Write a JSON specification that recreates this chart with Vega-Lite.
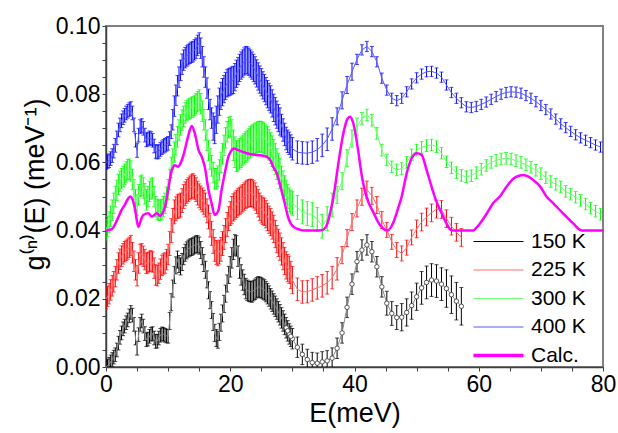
{
"$schema": "https://vega.github.io/schema/vega-lite/v6.json",
"width": 497, "height": 341,
"autosize": {"type": "none"},
"padding": {"left": 106, "top": 26, "right": 15, "bottom": 66},
"background": "white",
"config": {
 "font": "Liberation Sans",
 "view": {"stroke": "#808080", "strokeWidth": 2},
 "axis": {"grid": false, "domainColor": "#404040", "domainWidth": 1.5, "tickColor": "#404040", "labelColor": "#000", "titleColor": "#000", "labelFont": "Liberation Sans", "titleFont": "Liberation Sans", "labelFontSize": 23, "titleFontSize": 27, "titleFontWeight": "normal", "labelOverlap": false, "labelFlush": false}
},
"datasets": {
"k150": [
{"E":0,"g":0,"e":0.002},{"E":0.5,"g":0.0008,"e":0.002},{"E":1,"g":0.0022,"e":0.002},{"E":1.5,"g":0.0036,"e":0.002},{"E":2,"g":0.007,"e":0.002},{"E":2.5,"g":0.01,"e":0.002},{"E":3,"g":0.012,"e":0.002},{"E":3.5,"g":0.0138,"e":0.002},{"E":4,"g":0.016,"e":0.002},{"E":4.5,"g":0.0125,"e":0.002},{"E":5,"g":0.0055,"e":0.002},{"E":5.5,"g":0.0125,"e":0.002},{"E":6,"g":0.012,"e":0.002},{"E":6.5,"g":0.008,"e":0.002},{"E":7,"g":0.009,"e":0.002},{"E":7.5,"g":0.0098,"e":0.002},{"E":8,"g":0.0075,"e":0.002},{"E":8.5,"g":0.0085,"e":0.002},{"E":9,"g":0.0097,"e":0.002},{"E":9.5,"g":0.0093,"e":0.002},{"E":10,"g":0.009,"e":0.002},
{"E":10.5,"g":0.019,"e":0.0025},{"E":11,"g":0.027,"e":0.0025},{"E":11.5,"g":0.0315,"e":0.0025},{"E":12,"g":0.0295,"e":0.0025},{"E":12.5,"g":0.0325,"e":0.0025},{"E":13,"g":0.0342,"e":0.0025},{"E":13.5,"g":0.035,"e":0.0025},{"E":14,"g":0.0354,"e":0.0025},{"E":14.5,"g":0.036,"e":0.0025},{"E":15,"g":0.0356,"e":0.0025},{"E":15.5,"g":0.0325,"e":0.0025},{"E":16,"g":0.0285,"e":0.0025},{"E":16.5,"g":0.0225,"e":0.0025},{"E":17,"g":0.0167,"e":0.0025},{"E":17.5,"g":0.01,"e":0.0025},{"E":18,"g":0.008,"e":0.0025},{"E":18.5,"g":0.013,"e":0.0025},{"E":19,"g":0.0185,"e":0.0025},{"E":19.5,"g":0.0245,"e":0.0025},
{"E":20,"g":0.0294,"e":0.003},{"E":20.5,"g":0.0345,"e":0.003},{"E":21,"g":0.0355,"e":0.003},{"E":21.5,"g":0.029,"e":0.003},{"E":22,"g":0.0255,"e":0.003},{"E":22.5,"g":0.023,"e":0.003},{"E":23,"g":0.0222,"e":0.003},{"E":23.5,"g":0.022,"e":0.003},{"E":24,"g":0.0228,"e":0.003},{"E":24.5,"g":0.0235,"e":0.003},{"E":25,"g":0.0232,"e":0.003},{"E":25.5,"g":0.0226,"e":0.003},{"E":26,"g":0.0215,"e":0.003},{"E":26.5,"g":0.02,"e":0.003},{"E":27,"g":0.0185,"e":0.003},{"E":27.5,"g":0.017,"e":0.003},{"E":28,"g":0.0153,"e":0.003},{"E":28.5,"g":0.0135,"e":0.003},{"E":29,"g":0.0115,"e":0.003},{"E":29.5,"g":0.0097,"e":0.003},{"E":30,"g":0.0083,"e":0.003},
{"E":30.8,"g":0.0058,"e":0.003},{"E":31.6,"g":0.0037,"e":0.003},{"E":32.4,"g":0.0022,"e":0.003},{"E":33.2,"g":0.0013,"e":0.003},{"E":34,"g":0.0011,"e":0.003},{"E":34.8,"g":0.0015,"e":0.003},{"E":35.6,"g":0.0018,"e":0.003},{"E":36.4,"g":0.0026,"e":0.003},{"E":37.2,"g":0.0055,"e":0.003},{"E":38,"g":0.01,"e":0.003},{"E":38.8,"g":0.0175,"e":0.003},{"E":39.6,"g":0.0243,"e":0.003},{"E":40.4,"g":0.0309,"e":0.003},{"E":41.2,"g":0.0343,"e":0.003},{"E":42,"g":0.0358,"e":0.003},{"E":42.8,"g":0.0338,"e":0.003},{"E":43.6,"g":0.0294,"e":0.003},{"E":44.4,"g":0.0235,"e":0.003},{"E":45.2,"g":0.0187,"e":0.0035},{"E":46,"g":0.0157,"e":0.0035},{"E":46.8,"g":0.0145,"e":0.0035},{"E":47.6,"g":0.0146,"e":0.004},{"E":48.4,"g":0.016,"e":0.004},{"E":49.2,"g":0.018,"e":0.004},{"E":50,"g":0.0206,"e":0.004},{"E":50.8,"g":0.0232,"e":0.0048},{"E":51.6,"g":0.0248,"e":0.0048},{"E":52.4,"g":0.0255,"e":0.0048},{"E":53.2,"g":0.0252,"e":0.0048},{"E":54,"g":0.0243,"e":0.0048},{"E":54.8,"g":0.023,"e":0.0055},{"E":55.6,"g":0.0212,"e":0.0055},{"E":56.4,"g":0.0193,"e":0.0055},{"E":57.2,"g":0.0178,"e":0.0055},
{"E":0.25,"g":0.0003,"e":0.002},{"E":0.75,"g":0.0015,"e":0.002},{"E":1.25,"g":0.0029,"e":0.002},{"E":1.75,"g":0.005,"e":0.002},{"E":2.25,"g":0.0087,"e":0.002},{"E":2.75,"g":0.0112,"e":0.002},{"E":3.25,"g":0.013,"e":0.002},{"E":3.75,"g":0.015,"e":0.002},{"E":4.25,"g":0.0152,"e":0.002},{"E":4.75,"g":0.0085,"e":0.002},{"E":5.25,"g":0.0095,"e":0.002},{"E":5.75,"g":0.0135,"e":0.002},{"E":6.25,"g":0.0098,"e":0.002},{"E":6.75,"g":0.0082,"e":0.002},{"E":7.25,"g":0.0096,"e":0.002},{"E":7.75,"g":0.0085,"e":0.002},{"E":8.25,"g":0.0076,"e":0.002},{"E":8.75,"g":0.0093,"e":0.002},{"E":9.25,"g":0.0096,"e":0.002},{"E":9.75,"g":0.0091,"e":0.002},
{"E":10.25,"g":0.0135,"e":0.0025},{"E":10.75,"g":0.023,"e":0.0025},{"E":11.25,"g":0.0298,"e":0.0025},{"E":11.75,"g":0.0302,"e":0.0025},{"E":12.25,"g":0.0308,"e":0.0025},{"E":12.75,"g":0.0335,"e":0.0025},{"E":13.25,"g":0.0347,"e":0.0025},{"E":13.75,"g":0.0352,"e":0.0025},{"E":14.25,"g":0.0357,"e":0.0025},{"E":14.75,"g":0.036,"e":0.0025},{"E":15.25,"g":0.0343,"e":0.0025},{"E":15.75,"g":0.0305,"e":0.0025},{"E":16.25,"g":0.0257,"e":0.0025},{"E":16.75,"g":0.0196,"e":0.0025},{"E":17.25,"g":0.0132,"e":0.0025},{"E":17.75,"g":0.0085,"e":0.0025},{"E":18.25,"g":0.0103,"e":0.0025},{"E":18.75,"g":0.0157,"e":0.0025},{"E":19.25,"g":0.0215,"e":0.0025},{"E":19.75,"g":0.027,"e":0.0025},
{"E":20.25,"g":0.032,"e":0.003},{"E":20.75,"g":0.0358,"e":0.003},{"E":21.25,"g":0.0325,"e":0.003},{"E":21.75,"g":0.027,"e":0.003},{"E":22.25,"g":0.0242,"e":0.003},{"E":22.75,"g":0.0225,"e":0.003},{"E":23.25,"g":0.0221,"e":0.003},{"E":23.75,"g":0.0224,"e":0.003},{"E":24.25,"g":0.0232,"e":0.003},{"E":24.75,"g":0.0234,"e":0.003},{"E":25.25,"g":0.0229,"e":0.003},{"E":25.75,"g":0.0221,"e":0.003},{"E":26.25,"g":0.0208,"e":0.003},{"E":26.75,"g":0.0193,"e":0.003},{"E":27.25,"g":0.0178,"e":0.003},{"E":27.75,"g":0.0162,"e":0.003},{"E":28.25,"g":0.0144,"e":0.003},{"E":28.75,"g":0.0125,"e":0.003},{"E":29.25,"g":0.0106,"e":0.003},{"E":29.75,"g":0.009,"e":0.003}
],
"k225": [
{"E":0,"g":0.02,"e":0.003},{"E":0.5,"g":0.0215,"e":0.003},{"E":1,"g":0.0238,"e":0.003},{"E":1.5,"g":0.0265,"e":0.003},{"E":2,"g":0.0305,"e":0.003},{"E":2.5,"g":0.0325,"e":0.003},{"E":3,"g":0.0338,"e":0.003},{"E":3.5,"g":0.0346,"e":0.003},{"E":4,"g":0.0356,"e":0.003},{"E":4.5,"g":0.031,"e":0.003},{"E":5,"g":0.0268,"e":0.003},{"E":5.5,"g":0.033,"e":0.003},{"E":6,"g":0.0325,"e":0.003},{"E":6.5,"g":0.0304,"e":0.003},{"E":7,"g":0.031,"e":0.003},{"E":7.5,"g":0.0308,"e":0.003},{"E":8,"g":0.027,"e":0.003},{"E":8.5,"g":0.0275,"e":0.003},{"E":9,"g":0.0298,"e":0.003},{"E":9.5,"g":0.0305,"e":0.003},{"E":10,"g":0.033,"e":0.003},
{"E":10.5,"g":0.04,"e":0.0035},{"E":11,"g":0.0455,"e":0.0035},{"E":11.5,"g":0.047,"e":0.0035},{"E":12,"g":0.0475,"e":0.0035},{"E":12.5,"g":0.05,"e":0.0035},{"E":13,"g":0.0515,"e":0.0035},{"E":13.5,"g":0.0525,"e":0.0035},{"E":14,"g":0.0532,"e":0.0035},{"E":14.5,"g":0.052,"e":0.0035},{"E":15,"g":0.0502,"e":0.0035},{"E":15.5,"g":0.049,"e":0.0035},{"E":16,"g":0.0475,"e":0.0035},{"E":16.5,"g":0.044,"e":0.0035},{"E":17,"g":0.0392,"e":0.0035},{"E":17.5,"g":0.0345,"e":0.0035},{"E":18,"g":0.0332,"e":0.0035},{"E":18.5,"g":0.0345,"e":0.0035},{"E":19,"g":0.038,"e":0.0035},{"E":19.5,"g":0.0418,"e":0.0035},{"E":20,"g":0.045,"e":0.0035},
{"E":20.5,"g":0.0468,"e":0.004},{"E":21,"g":0.0478,"e":0.004},{"E":21.5,"g":0.0487,"e":0.004},{"E":22,"g":0.0495,"e":0.004},{"E":22.5,"g":0.0505,"e":0.004},{"E":23,"g":0.051,"e":0.004},{"E":23.5,"g":0.051,"e":0.004},{"E":24,"g":0.05,"e":0.004},{"E":24.5,"g":0.048,"e":0.004},{"E":25,"g":0.0462,"e":0.004},{"E":25.5,"g":0.0455,"e":0.004},{"E":26,"g":0.044,"e":0.004},{"E":26.5,"g":0.0425,"e":0.004},{"E":27,"g":0.0405,"e":0.004},{"E":27.5,"g":0.0375,"e":0.004},{"E":28,"g":0.0353,"e":0.004},{"E":28.5,"g":0.0325,"e":0.004},{"E":29,"g":0.0298,"e":0.004},{"E":29.5,"g":0.0285,"e":0.004},{"E":30,"g":0.0255,"e":0.004},
{"E":30.8,"g":0.0228,"e":0.0033},{"E":31.6,"g":0.022,"e":0.0033},{"E":32.4,"g":0.0221,"e":0.0033},{"E":33.2,"g":0.0226,"e":0.0033},{"E":34,"g":0.0232,"e":0.0033},{"E":34.8,"g":0.0238,"e":0.0033},{"E":35.6,"g":0.0247,"e":0.0033},{"E":36.4,"g":0.0262,"e":0.0033},{"E":37.2,"g":0.0288,"e":0.0033},{"E":38,"g":0.0328,"e":0.0025},{"E":38.8,"g":0.0378,"e":0.0025},{"E":39.6,"g":0.0425,"e":0.0025},{"E":40.4,"g":0.0465,"e":0.0025},{"E":41.2,"g":0.0499,"e":0.0025},{"E":42,"g":0.052,"e":0.0025},{"E":42.8,"g":0.0502,"e":0.0025},{"E":43.6,"g":0.0475,"e":0.0025},{"E":44.4,"g":0.0431,"e":0.0025},{"E":45.2,"g":0.0402,"e":0.0022},{"E":46,"g":0.0367,"e":0.0022},{"E":46.8,"g":0.0343,"e":0.0022},{"E":47.6,"g":0.0333,"e":0.0022},{"E":48.4,"g":0.035,"e":0.0022},{"E":49.2,"g":0.038,"e":0.0022},{"E":50,"g":0.0405,"e":0.0026},{"E":50.8,"g":0.0425,"e":0.0026},{"E":51.6,"g":0.044,"e":0.0026},{"E":52.4,"g":0.0452,"e":0.0026},{"E":53.2,"g":0.0463,"e":0.0026},{"E":54,"g":0.0462,"e":0.0026},{"E":54.8,"g":0.0435,"e":0.0026},{"E":55.6,"g":0.0413,"e":0.0026},{"E":56.4,"g":0.0395,"e":0.0026},{"E":57.2,"g":0.038,"e":0.0026},
{"E":0.25,"g":0.0207,"e":0.003},{"E":0.75,"g":0.0226,"e":0.003},{"E":1.25,"g":0.025,"e":0.003},{"E":1.75,"g":0.0285,"e":0.003},{"E":2.25,"g":0.0316,"e":0.003},{"E":2.75,"g":0.0332,"e":0.003},{"E":3.25,"g":0.0342,"e":0.003},{"E":3.75,"g":0.0351,"e":0.003},{"E":4.25,"g":0.0335,"e":0.003},{"E":4.75,"g":0.0285,"e":0.003},{"E":5.25,"g":0.0305,"e":0.003},{"E":5.75,"g":0.0332,"e":0.003},{"E":6.25,"g":0.0315,"e":0.003},{"E":6.75,"g":0.0306,"e":0.003},{"E":7.25,"g":0.0311,"e":0.003},{"E":7.75,"g":0.029,"e":0.003},{"E":8.25,"g":0.0268,"e":0.003},{"E":8.75,"g":0.0287,"e":0.003},{"E":9.25,"g":0.0302,"e":0.003},{"E":9.75,"g":0.0315,"e":0.003},
{"E":10.25,"g":0.0362,"e":0.0035},{"E":10.75,"g":0.043,"e":0.0035},{"E":11.25,"g":0.0464,"e":0.0035},{"E":11.75,"g":0.0472,"e":0.0035},{"E":12.25,"g":0.0488,"e":0.0035},{"E":12.75,"g":0.0508,"e":0.0035},{"E":13.25,"g":0.052,"e":0.0035},{"E":13.75,"g":0.0529,"e":0.0035},{"E":14.25,"g":0.0527,"e":0.0035},{"E":14.75,"g":0.051,"e":0.0035},{"E":15.25,"g":0.0496,"e":0.0035},{"E":15.75,"g":0.0483,"e":0.0035},{"E":16.25,"g":0.0458,"e":0.0035},{"E":16.75,"g":0.0416,"e":0.0035},{"E":17.25,"g":0.0368,"e":0.0035},{"E":17.75,"g":0.0336,"e":0.0035},{"E":18.25,"g":0.0337,"e":0.0035},{"E":18.75,"g":0.0362,"e":0.0035},{"E":19.25,"g":0.04,"e":0.0035},{"E":19.75,"g":0.0435,"e":0.0035},
{"E":20.25,"g":0.046,"e":0.004},{"E":20.75,"g":0.0473,"e":0.004},{"E":21.25,"g":0.0483,"e":0.004},{"E":21.75,"g":0.0491,"e":0.004},{"E":22.25,"g":0.05,"e":0.004},{"E":22.75,"g":0.0508,"e":0.004},{"E":23.25,"g":0.0511,"e":0.004},{"E":23.75,"g":0.0506,"e":0.004},{"E":24.25,"g":0.049,"e":0.004},{"E":24.75,"g":0.047,"e":0.004},{"E":25.25,"g":0.0458,"e":0.004},{"E":25.75,"g":0.0448,"e":0.004},{"E":26.25,"g":0.0432,"e":0.004},{"E":26.75,"g":0.0415,"e":0.004},{"E":27.25,"g":0.039,"e":0.004},{"E":27.75,"g":0.0364,"e":0.004},{"E":28.25,"g":0.0339,"e":0.004},{"E":28.75,"g":0.0311,"e":0.004},{"E":29.25,"g":0.029,"e":0.004},{"E":29.75,"g":0.027,"e":0.004}
],
"k300": [
{"E":0,"g":0.0402,"e":0.003},{"E":0.5,"g":0.0425,"e":0.003},{"E":1,"g":0.046,"e":0.003},{"E":1.5,"g":0.05,"e":0.003},{"E":2,"g":0.0535,"e":0.003},{"E":2.5,"g":0.0552,"e":0.003},{"E":3,"g":0.0565,"e":0.003},{"E":3.5,"g":0.0578,"e":0.003},{"E":4,"g":0.0575,"e":0.003},{"E":4.5,"g":0.052,"e":0.003},{"E":5,"g":0.0475,"e":0.003},{"E":5.5,"g":0.053,"e":0.003},{"E":6,"g":0.0525,"e":0.003},{"E":6.5,"g":0.049,"e":0.003},{"E":7,"g":0.0515,"e":0.003},{"E":7.5,"g":0.0525,"e":0.003},{"E":8,"g":0.047,"e":0.003},{"E":8.5,"g":0.046,"e":0.003},{"E":9,"g":0.0462,"e":0.003},{"E":9.5,"g":0.048,"e":0.003},{"E":10,"g":0.052,"e":0.003},
{"E":10.5,"g":0.0585,"e":0.003},{"E":11,"g":0.063,"e":0.003},{"E":11.5,"g":0.0675,"e":0.003},{"E":12,"g":0.071,"e":0.003},{"E":12.5,"g":0.0735,"e":0.003},{"E":13,"g":0.0752,"e":0.003},{"E":13.5,"g":0.0758,"e":0.003},{"E":14,"g":0.0763,"e":0.003},{"E":14.5,"g":0.0772,"e":0.003},{"E":15,"g":0.0783,"e":0.003},{"E":15.5,"g":0.075,"e":0.003},{"E":16,"g":0.0695,"e":0.003},{"E":16.5,"g":0.0635,"e":0.003},{"E":17,"g":0.059,"e":0.003},{"E":17.5,"g":0.0552,"e":0.003},{"E":18,"g":0.056,"e":0.003},{"E":18.5,"g":0.06,"e":0.003},{"E":19,"g":0.065,"e":0.003},{"E":19.5,"g":0.069,"e":0.003},{"E":20,"g":0.0705,"e":0.003},
{"E":20.5,"g":0.065,"e":0.0045},{"E":21,"g":0.0618,"e":0.0045},{"E":21.5,"g":0.0625,"e":0.0045},{"E":22,"g":0.0635,"e":0.0045},{"E":22.5,"g":0.0645,"e":0.0045},{"E":23,"g":0.0655,"e":0.0045},{"E":23.5,"g":0.0664,"e":0.0045},{"E":24,"g":0.067,"e":0.0045},{"E":24.5,"g":0.0675,"e":0.0045},{"E":25,"g":0.0675,"e":0.0045},{"E":25.5,"g":0.067,"e":0.0045},{"E":26,"g":0.066,"e":0.0045},{"E":26.5,"g":0.0642,"e":0.0045},{"E":27,"g":0.0622,"e":0.0045},{"E":27.5,"g":0.0595,"e":0.0045},{"E":28,"g":0.0568,"e":0.0045},
{"E":28.5,"g":0.054,"e":0.0035},{"E":29,"g":0.0513,"e":0.0035},{"E":29.5,"g":0.049,"e":0.0035},{"E":30,"g":0.048,"e":0.0035},{"E":30.8,"g":0.0468,"e":0.0035},{"E":31.6,"g":0.0455,"e":0.0035},{"E":32.4,"g":0.045,"e":0.0035},{"E":33.2,"g":0.0447,"e":0.0035},{"E":34,"g":0.0433,"e":0.0035},{"E":34.8,"g":0.0413,"e":0.0035},{"E":35.6,"g":0.0435,"e":0.0035},{"E":36.4,"g":0.0475,"e":0.0035},{"E":37.2,"g":0.0505,"e":0.0025},{"E":38,"g":0.0545,"e":0.0025},{"E":38.8,"g":0.0612,"e":0.0025},{"E":39.6,"g":0.067,"e":0.0025},{"E":40.4,"g":0.0705,"e":0.0025},
{"E":41.2,"g":0.0729,"e":0.0017},{"E":42,"g":0.0739,"e":0.0017},{"E":42.8,"g":0.0724,"e":0.0017},{"E":43.6,"g":0.0685,"e":0.0017},{"E":44.4,"g":0.0636,"e":0.0017},{"E":45.2,"g":0.0607,"e":0.0017},{"E":46,"g":0.0587,"e":0.0017},{"E":46.8,"g":0.0578,"e":0.0017},{"E":47.6,"g":0.0582,"e":0.0017},{"E":48.4,"g":0.06,"e":0.0017},{"E":49.2,"g":0.0622,"e":0.0017},{"E":50,"g":0.0636,"e":0.0017},{"E":50.8,"g":0.0644,"e":0.0017},{"E":51.6,"g":0.0649,"e":0.0017},{"E":52.4,"g":0.0651,"e":0.0017},{"E":53.2,"g":0.0646,"e":0.0017},{"E":54,"g":0.0627,"e":0.0017},{"E":54.8,"g":0.0602,"e":0.0017},{"E":55.6,"g":0.0584,"e":0.0017},{"E":56.4,"g":0.057,"e":0.0017},{"E":57.2,"g":0.0562,"e":0.0017},{"E":58,"g":0.0558,"e":0.0017},{"E":58.8,"g":0.0561,"e":0.0017},{"E":59.6,"g":0.057,"e":0.0017},{"E":60.4,"g":0.058,"e":0.0017},{"E":61.2,"g":0.0591,"e":0.0017},{"E":62,"g":0.06,"e":0.0017},{"E":62.8,"g":0.0606,"e":0.0017},{"E":63.6,"g":0.061,"e":0.0017},{"E":64.4,"g":0.0612,"e":0.0017},{"E":65.2,"g":0.061,"e":0.0017},{"E":66,"g":0.0605,"e":0.0017},{"E":66.8,"g":0.06,"e":0.0017},{"E":67.6,"g":0.0593,"e":0.0017},{"E":68.4,"g":0.0586,"e":0.0017},{"E":69.2,"g":0.0577,"e":0.0017},{"E":70,"g":0.0567,"e":0.0017},{"E":70.8,"g":0.0555,"e":0.0017},{"E":71.6,"g":0.0544,"e":0.0017},{"E":72.4,"g":0.0536,"e":0.0017},{"E":73.2,"g":0.0528,"e":0.0017},{"E":74,"g":0.0515,"e":0.0017},{"E":74.8,"g":0.0507,"e":0.0017},{"E":75.6,"g":0.0498,"e":0.0017},{"E":76.4,"g":0.0489,"e":0.0017},{"E":77.2,"g":0.0478,"e":0.0017},{"E":78,"g":0.0466,"e":0.0017},{"E":78.8,"g":0.0457,"e":0.0017},{"E":79.6,"g":0.0448,"e":0.0017},
{"E":0.25,"g":0.0412,"e":0.003},{"E":0.75,"g":0.0442,"e":0.003},{"E":1.25,"g":0.048,"e":0.003},{"E":1.75,"g":0.0518,"e":0.003},{"E":2.25,"g":0.0545,"e":0.003},{"E":2.75,"g":0.0559,"e":0.003},{"E":3.25,"g":0.0572,"e":0.003},{"E":3.75,"g":0.058,"e":0.003},{"E":4.25,"g":0.055,"e":0.003},{"E":4.75,"g":0.049,"e":0.003},{"E":5.25,"g":0.0505,"e":0.003},{"E":5.75,"g":0.0533,"e":0.003},{"E":6.25,"g":0.0508,"e":0.003},{"E":6.75,"g":0.05,"e":0.003},{"E":7.25,"g":0.0522,"e":0.003},{"E":7.75,"g":0.05,"e":0.003},{"E":8.25,"g":0.0462,"e":0.003},{"E":8.75,"g":0.046,"e":0.003},{"E":9.25,"g":0.047,"e":0.003},{"E":9.75,"g":0.0498,"e":0.003},
{"E":10.25,"g":0.055,"e":0.003},{"E":10.75,"g":0.061,"e":0.003},{"E":11.25,"g":0.0652,"e":0.003},{"E":11.75,"g":0.0695,"e":0.003},{"E":12.25,"g":0.0724,"e":0.003},{"E":12.75,"g":0.0745,"e":0.003},{"E":13.25,"g":0.0756,"e":0.003},{"E":13.75,"g":0.0761,"e":0.003},{"E":14.25,"g":0.0767,"e":0.003},{"E":14.75,"g":0.0778,"e":0.003},{"E":15.25,"g":0.0772,"e":0.003},{"E":15.75,"g":0.0725,"e":0.003},{"E":16.25,"g":0.0665,"e":0.003},{"E":16.75,"g":0.061,"e":0.003},{"E":17.25,"g":0.057,"e":0.003},{"E":17.75,"g":0.0552,"e":0.003},{"E":18.25,"g":0.0578,"e":0.003},{"E":18.75,"g":0.0625,"e":0.003},{"E":19.25,"g":0.0672,"e":0.003},{"E":19.75,"g":0.0702,"e":0.003},
{"E":20.25,"g":0.068,"e":0.0045},{"E":20.75,"g":0.063,"e":0.0045},{"E":21.25,"g":0.062,"e":0.0045},{"E":21.75,"g":0.063,"e":0.0045},{"E":22.25,"g":0.064,"e":0.0045},{"E":22.75,"g":0.065,"e":0.0045},{"E":23.25,"g":0.066,"e":0.0045},{"E":23.75,"g":0.0667,"e":0.0045},{"E":24.25,"g":0.0673,"e":0.0045},{"E":24.75,"g":0.0676,"e":0.0045},{"E":25.25,"g":0.0673,"e":0.0045},{"E":25.75,"g":0.0665,"e":0.0045},{"E":26.25,"g":0.0652,"e":0.0045},{"E":26.75,"g":0.0633,"e":0.0045},{"E":27.25,"g":0.061,"e":0.0045},{"E":27.75,"g":0.0582,"e":0.0045},{"E":28.25,"g":0.0554,"e":0.0035},{"E":28.75,"g":0.0526,"e":0.0035},{"E":29.25,"g":0.05,"e":0.0035},{"E":29.75,"g":0.0484,"e":0.0035}
],
"k400": [
{"E":0,"g":0.06,"e":0.002},{"E":0.5,"g":0.0605,"e":0.002},{"E":1,"g":0.062,"e":0.002},{"E":1.5,"g":0.065,"e":0.002},{"E":2,"g":0.0695,"e":0.002},{"E":2.5,"g":0.0722,"e":0.002},{"E":3,"g":0.0738,"e":0.002},{"E":3.5,"g":0.075,"e":0.002},{"E":4,"g":0.0758,"e":0.002},{"E":4.5,"g":0.071,"e":0.002},{"E":5,"g":0.0635,"e":0.002},{"E":5.5,"g":0.0705,"e":0.002},{"E":6,"g":0.07,"e":0.002},{"E":6.5,"g":0.0666,"e":0.002},{"E":7,"g":0.0672,"e":0.002},{"E":7.5,"g":0.0665,"e":0.002},{"E":8,"g":0.0632,"e":0.002},{"E":8.5,"g":0.0632,"e":0.002},{"E":9,"g":0.0643,"e":0.002},{"E":9.5,"g":0.065,"e":0.002},{"E":10,"g":0.0656,"e":0.002},{"E":10.5,"g":0.069,"e":0.002},
{"E":11,"g":0.0765,"e":0.003},{"E":11.5,"g":0.0825,"e":0.003},{"E":12,"g":0.087,"e":0.003},{"E":12.5,"g":0.09,"e":0.003},{"E":13,"g":0.0912,"e":0.003},{"E":13.5,"g":0.092,"e":0.003},{"E":14,"g":0.0925,"e":0.003},{"E":14.5,"g":0.0935,"e":0.003},{"E":15,"g":0.095,"e":0.003},{"E":15.5,"g":0.091,"e":0.003},{"E":16,"g":0.085,"e":0.003},{"E":16.5,"g":0.0785,"e":0.003},{"E":17,"g":0.073,"e":0.003},
{"E":17.5,"g":0.0695,"e":0.004},{"E":18,"g":0.0755,"e":0.004},{"E":18.5,"g":0.0795,"e":0.004},{"E":19,"g":0.0815,"e":0.004},{"E":19.5,"g":0.0832,"e":0.004},{"E":20,"g":0.0837,"e":0.004},{"E":20.5,"g":0.0842,"e":0.004},{"E":21,"g":0.086,"e":0.004},{"E":21.5,"g":0.0877,"e":0.004},{"E":22,"g":0.089,"e":0.004},{"E":22.5,"g":0.09,"e":0.004},{"E":23,"g":0.0895,"e":0.004},{"E":23.5,"g":0.0884,"e":0.004},{"E":24,"g":0.087,"e":0.004},{"E":24.5,"g":0.0852,"e":0.004},{"E":25,"g":0.0835,"e":0.004},{"E":25.5,"g":0.0818,"e":0.004},{"E":26,"g":0.08,"e":0.004},{"E":26.5,"g":0.0785,"e":0.004},{"E":27,"g":0.076,"e":0.004},{"E":27.5,"g":0.074,"e":0.004},{"E":28,"g":0.072,"e":0.004},
{"E":28.5,"g":0.0695,"e":0.0033},{"E":29,"g":0.067,"e":0.0033},{"E":29.5,"g":0.0656,"e":0.0033},{"E":30,"g":0.064,"e":0.0033},{"E":30.8,"g":0.063,"e":0.0033},{"E":31.6,"g":0.0628,"e":0.0033},{"E":32.4,"g":0.0627,"e":0.0033},{"E":33.2,"g":0.063,"e":0.0033},{"E":34,"g":0.0637,"e":0.0033},{"E":34.8,"g":0.065,"e":0.0033},{"E":35.6,"g":0.0668,"e":0.0033},{"E":36.4,"g":0.0698,"e":0.0033},{"E":37.2,"g":0.0735,"e":0.0025},{"E":38,"g":0.0782,"e":0.0025},{"E":38.8,"g":0.0827,"e":0.0025},{"E":39.6,"g":0.0866,"e":0.0025},
{"E":40.4,"g":0.0902,"e":0.0015},{"E":41.2,"g":0.093,"e":0.0015},{"E":42,"g":0.094,"e":0.0015},{"E":42.8,"g":0.0925,"e":0.0015},{"E":43.6,"g":0.0895,"e":0.0015},{"E":44.4,"g":0.0847,"e":0.0015},{"E":45.2,"g":0.0812,"e":0.0015},{"E":46,"g":0.0788,"e":0.0015},{"E":46.8,"g":0.0781,"e":0.0015},{"E":47.6,"g":0.0788,"e":0.0015},{"E":48.4,"g":0.0807,"e":0.0015},{"E":49.2,"g":0.083,"e":0.0015},{"E":50,"g":0.0848,"e":0.0015},{"E":50.8,"g":0.0859,"e":0.0015},{"E":51.6,"g":0.0866,"e":0.0015},{"E":52.4,"g":0.0867,"e":0.0015},{"E":53.2,"g":0.0862,"e":0.0015},{"E":54,"g":0.085,"e":0.0015},{"E":54.8,"g":0.0827,"e":0.0015},{"E":55.6,"g":0.0805,"e":0.0015},{"E":56.4,"g":0.0788,"e":0.0015},{"E":57.2,"g":0.0775,"e":0.0015},{"E":58,"g":0.0763,"e":0.0015},{"E":58.8,"g":0.0761,"e":0.0015},{"E":59.6,"g":0.0764,"e":0.0015},{"E":60.4,"g":0.077,"e":0.0015},{"E":61.2,"g":0.0777,"e":0.0015},{"E":62,"g":0.0785,"e":0.0015},{"E":62.8,"g":0.0793,"e":0.0015},{"E":63.6,"g":0.08,"e":0.0015},{"E":64.4,"g":0.0805,"e":0.0015},{"E":65.2,"g":0.0807,"e":0.0015},{"E":66,"g":0.0806,"e":0.0015},{"E":66.8,"g":0.0803,"e":0.0015},{"E":67.6,"g":0.0796,"e":0.0015},{"E":68.4,"g":0.0788,"e":0.0015},{"E":69.2,"g":0.0778,"e":0.0015},{"E":70,"g":0.0767,"e":0.0015},{"E":70.8,"g":0.0755,"e":0.0015},{"E":71.6,"g":0.0742,"e":0.0015},{"E":72.4,"g":0.0727,"e":0.0015},{"E":73.2,"g":0.0713,"e":0.0015},{"E":74,"g":0.0702,"e":0.0015},{"E":74.8,"g":0.0691,"e":0.0015},{"E":75.6,"g":0.0681,"e":0.0015},{"E":76.4,"g":0.0672,"e":0.0015},{"E":77.2,"g":0.0665,"e":0.0015},{"E":78,"g":0.0658,"e":0.0015},{"E":78.8,"g":0.0651,"e":0.0015},{"E":79.6,"g":0.0645,"e":0.0015},
{"E":0.25,"g":0.0602,"e":0.002},{"E":0.75,"g":0.0611,"e":0.002},{"E":1.25,"g":0.0633,"e":0.002},{"E":1.75,"g":0.0672,"e":0.002},{"E":2.25,"g":0.071,"e":0.002},{"E":2.75,"g":0.0731,"e":0.002},{"E":3.25,"g":0.0745,"e":0.002},{"E":3.75,"g":0.0755,"e":0.002},{"E":4.25,"g":0.0745,"e":0.002},{"E":4.75,"g":0.0665,"e":0.002},{"E":5.25,"g":0.068,"e":0.002},{"E":5.75,"g":0.0708,"e":0.002},{"E":6.25,"g":0.068,"e":0.002},{"E":6.75,"g":0.0668,"e":0.002},{"E":7.25,"g":0.067,"e":0.002},{"E":7.75,"g":0.0648,"e":0.002},{"E":8.25,"g":0.063,"e":0.002},{"E":8.75,"g":0.0638,"e":0.002},{"E":9.25,"g":0.0647,"e":0.002},{"E":9.75,"g":0.0653,"e":0.002},{"E":10.25,"g":0.067,"e":0.002},
{"E":10.75,"g":0.0725,"e":0.003},{"E":11.25,"g":0.0797,"e":0.003},{"E":11.75,"g":0.085,"e":0.003},{"E":12.25,"g":0.0888,"e":0.003},{"E":12.75,"g":0.0907,"e":0.003},{"E":13.25,"g":0.0916,"e":0.003},{"E":13.75,"g":0.0923,"e":0.003},{"E":14.25,"g":0.093,"e":0.003},{"E":14.75,"g":0.0943,"e":0.003},{"E":15.25,"g":0.0935,"e":0.003},{"E":15.75,"g":0.088,"e":0.003},{"E":16.25,"g":0.0818,"e":0.003},{"E":16.75,"g":0.0755,"e":0.003},
{"E":17.25,"g":0.0705,"e":0.004},{"E":17.75,"g":0.0725,"e":0.004},{"E":18.25,"g":0.0778,"e":0.004},{"E":18.75,"g":0.0806,"e":0.004},{"E":19.25,"g":0.0824,"e":0.004},{"E":19.75,"g":0.0835,"e":0.004},{"E":20.25,"g":0.084,"e":0.004},{"E":20.75,"g":0.085,"e":0.004},{"E":21.25,"g":0.0868,"e":0.004},{"E":21.75,"g":0.0884,"e":0.004},{"E":22.25,"g":0.0896,"e":0.004},{"E":22.75,"g":0.0899,"e":0.004},{"E":23.25,"g":0.089,"e":0.004},{"E":23.75,"g":0.0877,"e":0.004},{"E":24.25,"g":0.0861,"e":0.004},{"E":24.75,"g":0.0843,"e":0.004},{"E":25.25,"g":0.0826,"e":0.004},{"E":25.75,"g":0.0809,"e":0.004},{"E":26.25,"g":0.0792,"e":0.004},{"E":26.75,"g":0.0773,"e":0.004},{"E":27.25,"g":0.075,"e":0.004},{"E":27.75,"g":0.073,"e":0.004},
{"E":28.25,"g":0.0708,"e":0.0033},{"E":28.75,"g":0.0682,"e":0.0033},{"E":29.25,"g":0.0662,"e":0.0033},{"E":29.75,"g":0.0648,"e":0.0033}
],
"calc": [
{"E":0,"g":0.04},{"E":0.5,"g":0.0402},{"E":1,"g":0.0405},{"E":1.5,"g":0.042},{"E":2,"g":0.044},{"E":2.5,"g":0.046},{"E":3,"g":0.0475},{"E":3.5,"g":0.0492},{"E":3.9,"g":0.05},{"E":4.3,"g":0.049},{"E":4.7,"g":0.046},{"E":5.2,"g":0.0411},{"E":5.6,"g":0.043},{"E":6,"g":0.0446},{"E":6.8,"g":0.0451},{"E":7.4,"g":0.0441},{"E":8.2,"g":0.0451},{"E":8.7,"g":0.0443},{"E":9.2,"g":0.0455},{"E":9.5,"g":0.047},{"E":10,"g":0.0519},{"E":10.6,"g":0.0578},{"E":11.1,"g":0.0592},{"E":11.6,"g":0.0587},{"E":12,"g":0.0598},{"E":12.4,"g":0.0617},{"E":12.8,"g":0.0645},{"E":13.2,"g":0.0675},{"E":13.8,"g":0.0707},{"E":14.3,"g":0.0685},{"E":14.9,"g":0.0636},{"E":15.4,"g":0.0617},{"E":15.9,"g":0.0587},{"E":16.5,"g":0.0519},{"E":17,"g":0.048},{"E":17.5,"g":0.0446},{"E":18.1,"g":0.046},{"E":18.6,"g":0.0519},{"E":18.9,"g":0.0548},{"E":19.3,"g":0.0585},{"E":19.7,"g":0.0617},{"E":20.1,"g":0.0632},{"E":20.5,"g":0.0641},{"E":21.3,"g":0.0636},{"E":22.6,"g":0.0627},{"E":24.2,"g":0.0622},{"E":25.8,"g":0.0617},{"E":26.5,"g":0.0605},{"E":26.9,"g":0.0587},{"E":27.5,"g":0.0568},{"E":28,"g":0.0535},{"E":28.5,"g":0.05},{"E":29,"g":0.0462},{"E":29.3,"g":0.044},{"E":29.7,"g":0.0422},{"E":30.2,"g":0.0411},{"E":31.2,"g":0.0403},{"E":32,"g":0.04},{"E":34,"g":0.04},{"E":35,"g":0.0403},{"E":35.5,"g":0.0415},{"E":35.8,"g":0.0431},{"E":36.3,"g":0.047},{"E":36.8,"g":0.052},{"E":37.4,"g":0.0597},{"E":38.2,"g":0.0685},{"E":38.9,"g":0.0729},{"E":39.3,"g":0.0734},{"E":39.8,"g":0.0715},{"E":40.5,"g":0.0646},{"E":41.2,"g":0.0558},{"E":41.7,"g":0.0515},{"E":42.2,"g":0.0485},{"E":43,"g":0.0455},{"E":43.8,"g":0.0425},{"E":44.6,"g":0.0406},{"E":45.3,"g":0.04},{"E":45.8,"g":0.0408},{"E":46.3,"g":0.0426},{"E":47.1,"g":0.047},{"E":47.6,"g":0.05},{"E":48.4,"g":0.0568},{"E":49.2,"g":0.0612},{"E":50,"g":0.0627},{"E":50.8,"g":0.0622},{"E":51.6,"g":0.0578},{"E":52.4,"g":0.0529},{"E":53.2,"g":0.0485},{"E":53.8,"g":0.046},{"E":54.8,"g":0.0421},{"E":55.5,"g":0.0402},{"E":56,"g":0.04},{"E":59.1,"g":0.04},{"E":59.6,"g":0.0408},{"E":60.2,"g":0.0421},{"E":61.3,"g":0.045},{"E":62.3,"g":0.048},{"E":63.4,"g":0.05},{"E":64.5,"g":0.0529},{"E":65.6,"g":0.0553},{"E":66.5,"g":0.0561},{"E":67.2,"g":0.0563},{"E":68,"g":0.0558},{"E":68.8,"g":0.0548},{"E":69.9,"g":0.0529},{"E":70.9,"g":0.05},{"E":72,"g":0.048},{"E":73.6,"g":0.045},{"E":75.2,"g":0.0421},{"E":76.6,"g":0.04},{"E":80,"g":0.04}
]
},
"encoding": {
  "x": {"field": "E", "type": "quantitative", "scale": {"domain": [0, 80]}, "title": "E(meV)",
        "axis": {"values": [0,5,10,15,20,25,30,35,40,45,50,55,60,65,70,75,80], "format": "d", "labelExpr": "datum.value % 20 == 0 ? datum.label : ''", "tickSize": 4, "labelPadding": 2, "titlePadding": 4}},
  "y": {"field": "g", "type": "quantitative", "scale": {"domain": [0, 0.1]}, "title": "g⁽ⁿ⁾(E) (meV⁻¹)",
        "axis": {"values": [0,0.005,0.01,0.015,0.02,0.025,0.03,0.035,0.04,0.045,0.05,0.055,0.06,0.065,0.07,0.075,0.08,0.085,0.09,0.095,0.1], "format": ".2f", "labelExpr": "round(datum.value*1000) % 20 == 0 ? datum.label : ''", "tickSize": 4, "labelPadding": 2, "titleX": -57, "titleY": 158}}
},
"layer": [
{"data": {"name": "k150"},
 "mark": {"type": "errorbar", "ticks": {"size": 4}, "clip": true},
 "encoding": {
  "yError": {"field": "e"},
  "color": {"datum": "150 K", "type": "nominal",
    "scale": {"domain": ["150 K", "225 K", "300 K", "400 K", "Calc."], "range": ["#000000", "#ff7070", "#70ff70", "#5a5aff", "#ff00ff"]},
    "legend": {"title": null, "orient": "none", "legendX": 382, "legendY": 205, "symbolType": "stroke", "symbolSize": 2500, "symbolStrokeWidth": 1.2, "labelFontSize": 21, "labelFont": "Liberation Sans", "labelColor": "#000", "rowPadding": 6.5, "labelOffset": 22,
      "encode": {"symbols": {"update": {"strokeWidth": {"signal": "datum.value === 'Calc.' ? 3.5 : 1.2"}}}}}
  }
 }},
{"data": {"name": "k150"}, "mark": {"type": "line", "color": "#8a8a8a", "strokeWidth": 1}},
{"data": {"name": "k150"}, "transform": [{"filter": "datum.E >= 29"}], "mark": {"type": "point", "fill": "white", "stroke": "#444444", "strokeWidth": 0.9, "size": 20, "opacity": 1, "filled": false}},
{"data": {"name": "k225"}, "mark": {"type": "errorbar", "ticks": {"size": 4}, "color": "#ff0000", "clip": true},
 "encoding": {"yError": {"field": "e"}}},
{"data": {"name": "k225"}, "mark": {"type": "line", "strokeWidth": 1},
 "encoding": {"color": {"datum": "225 K", "type": "nominal"}}},
{"data": {"name": "k300"}, "mark": {"type": "errorbar", "ticks": {"size": 4}, "color": "#00ff00", "clip": true},
 "encoding": {"yError": {"field": "e"}}},
{"data": {"name": "k300"}, "mark": {"type": "line", "strokeWidth": 1},
 "encoding": {"color": {"datum": "300 K", "type": "nominal"}}},
{"data": {"name": "k400"}, "mark": {"type": "errorbar", "ticks": {"size": 4}, "color": "#0000ff", "clip": true},
 "encoding": {"yError": {"field": "e"}}},
{"data": {"name": "k400"}, "mark": {"type": "line", "strokeWidth": 1},
 "encoding": {"color": {"datum": "400 K", "type": "nominal"}}},
{"data": {"name": "calc"}, "mark": {"type": "line", "strokeWidth": 2.5, "interpolate": "monotone"},
 "encoding": {"color": {"datum": "Calc.", "type": "nominal"}}}
]
}
